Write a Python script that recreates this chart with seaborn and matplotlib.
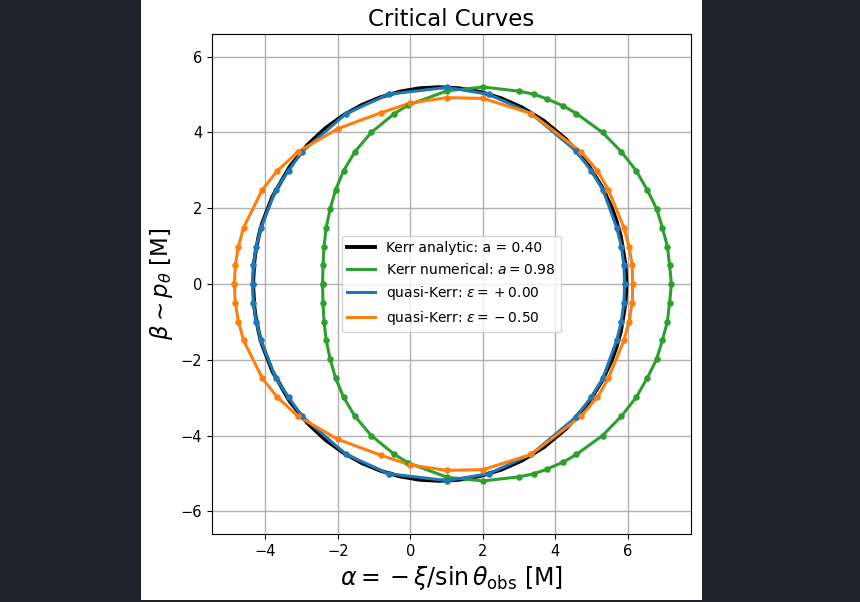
import matplotlib
matplotlib.use('Agg')
import matplotlib.pyplot as plt
import seaborn as sns
from matplotlib.patches import Rectangle

# Critical curves (alpha, beta in units of M)
KERR_A_ANALYTIC = 0.40
KERR_A_NUMERICAL = 0.98
EPS_VALUES = [0.00, -0.50]

kerr_alpha = [
    -4.338, -4.303, -4.275, -4.181, -4.087, -3.803, -3.325, -2.839, -2.346, -1.844,
    -1.333, -0.814, -0.286, 0.252, 0.800, 1.357, 1.925, 2.503, 3.091, 3.690,
    4.299, 4.919, 5.296, 5.550, 5.678, 5.805, 5.934, 5.960,
    5.934, 5.805, 5.678, 5.550, 5.296, 4.919, 4.299, 3.690, 3.091, 2.503,
    1.925, 1.357, 0.800, 0.252, -0.286, -0.814, -1.333, -1.844, -2.346, -2.839,
    -3.325, -3.803, -4.087, -4.181, -4.275, -4.303, -4.338]
kerr_beta = [
    0.000, 0.597, 0.807, 1.272, 1.604, 2.309, 3.100, 3.671, 4.111, 4.457,
    4.729, 4.934, 5.079, 5.167, 5.196, 5.166, 5.071, 4.904, 4.655, 4.303,
    3.816, 3.126, 2.544, 2.023, 1.688, 1.252, 0.498, 0.000,
    -0.498, -1.252, -1.688, -2.023, -2.544, -3.126, -3.816, -4.303, -4.655, -4.904,
    -5.071, -5.166, -5.196, -5.167, -5.079, -4.934, -4.729, -4.457, -4.111, -3.671,
    -3.100, -2.309, -1.604, -1.272, -0.807, -0.597, 0.000]

num_alpha = [
    -2.42, -2.41, -2.38, -2.32, -2.21, -2.06, -1.84, -1.53, -1.08, -0.44, -0.06,
    1.01, 2.01, 3.00, 3.41, 3.76, 4.22, 4.58, 5.30, 5.82, 6.23, 6.53, 6.79, 6.95,
    7.09, 7.15, 7.20,
    7.15, 7.09, 6.95, 6.79, 6.53, 6.23, 5.82, 5.30, 4.58, 4.22, 3.76, 3.41, 3.00,
    2.01, 1.01, -0.06, -0.44, -1.08, -1.53, -1.84, -2.06, -2.21, -2.32, -2.38,
    -2.41, -2.42]
num_beta = [
    0.00, 0.49, 0.99, 1.49, 1.99, 2.49, 2.99, 3.49, 4.00, 4.50, 4.72,
    5.10, 5.20, 5.09, 5.01, 4.89, 4.70, 4.50, 4.00, 3.49, 2.99, 2.49, 1.99, 1.49,
    0.99, 0.49, 0.00,
    -0.49, -0.99, -1.49, -1.99, -2.49, -2.99, -3.49, -4.00, -4.50, -4.70, -4.89,
    -5.01, -5.09, -5.20, -5.10, -4.72, -4.50, -4.00, -3.49, -2.99, -2.49, -1.99,
    -1.49, -0.99, -0.49, 0.00]

qk0_alpha = [
    -4.35, -4.33, -4.25, -4.12, -3.71, -3.36, -2.99, -1.77, -0.60, 1.01, 2.16,
    3.33, 4.56, 4.99, 5.31, 5.69, 5.82, 5.89, 5.91,
    5.89, 5.82, 5.69, 5.31, 4.99, 4.56, 3.33, 2.16, 1.01, -0.60, -1.77, -2.99,
    -3.36, -3.71, -4.12, -4.25, -4.33, -4.35]
qk0_beta = [
    0.00, 0.49, 0.99, 1.49, 2.49, 2.99, 3.49, 4.50, 5.01, 5.19, 5.01,
    4.50, 3.52, 2.99, 2.49, 1.49, 0.99, 0.49, 0.00,
    -0.49, -0.99, -1.49, -2.49, -2.99, -3.52, -4.50, -5.01, -5.19, -5.01, -4.50,
    -3.49, -2.99, -2.49, -1.49, -0.99, -0.49, 0.00]

qk1_alpha = [
    -4.85, -4.83, -4.74, -4.60, -4.08, -3.67, -3.10, -2.00, -0.81, 0.00, 1.01,
    2.01, 3.33, 4.71, 5.16, 5.46, 5.89, 6.03, 6.12, 6.13,
    6.12, 6.03, 5.89, 5.46, 5.16, 4.71, 3.33, 2.01, 1.01, 0.00, -0.81, -2.00,
    -3.10, -3.67, -4.08, -4.60, -4.74, -4.83, -4.85]
qk1_beta = [
    0.00, 0.49, 0.99, 1.49, 2.49, 2.99, 3.49, 4.10, 4.52, 4.78, 4.92,
    4.90, 4.50, 3.49, 2.99, 2.49, 1.49, 0.99, 0.49, 0.00,
    -0.49, -0.99, -1.49, -2.49, -2.99, -3.49, -4.50, -4.90, -4.92, -4.78, -4.52,
    -4.10, -3.49, -2.99, -2.49, -1.49, -0.99, -0.49, 0.00]

fig = plt.figure(figsize=(8.6, 6.02), dpi=100, facecolor='#1e222a')
# white canvas of the original figure sitting on the dark screenshot background
fig.patches.append(Rectangle((141 / 860, 2 / 602), 561 / 860, 600 / 602,
                             transform=fig.transFigure, facecolor='white',
                             edgecolor='none', zorder=-10))
ax = fig.add_axes([212 / 860, 68 / 602, 479 / 860, 500 / 602])
ax.set_zorder(1)

sns.lineplot(x=kerr_alpha, y=kerr_beta, sort=False, estimator=None, ax=ax,
             color='black', lw=2.8, label=f'Kerr analytic: a = {KERR_A_ANALYTIC:.2f}')

# '{}' before the sign keeps the old-style binary spacing seen in the reference
series = [
    (num_alpha, num_beta, '#2ca02c', f'Kerr numerical: $a = {KERR_A_NUMERICAL:.2f}$'),
    (qk0_alpha, qk0_beta, '#1f77b4', f'quasi-Kerr: $\\epsilon = {{}}{EPS_VALUES[0]:+.2f}$'),
    (qk1_alpha, qk1_beta, '#ff7f0e', f'quasi-Kerr: $\\epsilon = {{}}{EPS_VALUES[1]:+.2f}$'),
]
for xs, ys, col, lab in series:
    sns.lineplot(x=xs, y=ys, sort=False, estimator=None, ax=ax,
                 color=col, lw=2.2, label=lab)
    sns.scatterplot(x=xs, y=ys, ax=ax, color=col, s=22, linewidth=0, zorder=3)

ax.set_xlim(-5.47, 7.74)
ax.set_ylim(-6.6, 6.6)
ax.set_xticks([-4, -2, 0, 2, 4, 6])
ax.set_yticks([-6, -4, -2, 0, 2, 4, 6])
ax.tick_params(labelsize=10.5)
ax.grid(True, color='#b0b0b0', lw=1.0)
ax.set_axisbelow(True)

ax.set_title('Critical Curves', fontsize=16.5)
ax.set_xlabel(r'$\alpha = {}-\xi / \sin\theta_{\rm obs}$ [M]', fontsize=17)
ax.set_ylabel(r'$\beta \sim p_\theta$ [M]', fontsize=16.5)
ax.legend(loc='center', fontsize=10)

fig.savefig('out.png', dpi=100, facecolor=fig.get_facecolor())
